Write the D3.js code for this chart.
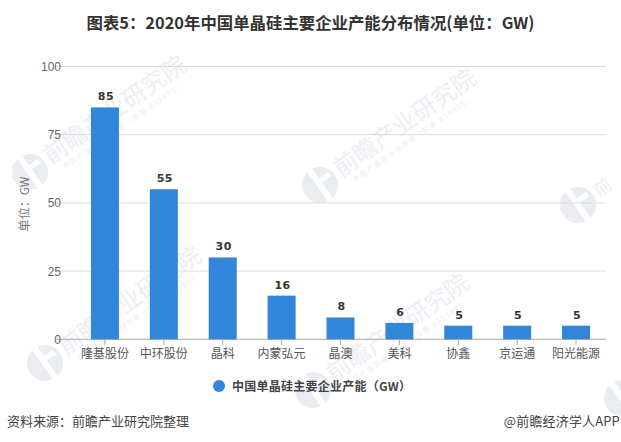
<!DOCTYPE html>
<html><head><meta charset="utf-8">
<script src="https://cdnjs.cloudflare.com/ajax/libs/d3/7.8.5/d3.min.js"></script>
<style>html,body{margin:0;background:#fff}svg{display:block}text{font-family:"Noto Sans CJK SC","Liberation Sans",sans-serif}</style>
</head><body><svg id="c" width="621" height="442"></svg>
<script>
const categories=["隆基股份","中环股份","晶科","内蒙弘元","晶澳","美科","协鑫","京运通","阳光能源"];
const values=[85,55,30,16,8,6,5,5,5];
const yTicks=[0,25,50,75,100];
const titleText="图表5：2020年中国单晶硅主要企业产能分布情况(单位：GW)";
const seriesName="中国单晶硅主要企业产能（GW）";
const yLabel="单位：GW";
const sourceText="资料来源：前瞻产业研究院整理";
const creditText="@前瞻经济学人APP";
const wmPositions=[[30,172],[320,185],[45,363],[313,390],[578,205],[622,398]];
const wmLabels=["前瞻产业研究院","前瞻产业研究院","前瞻产业研究院","前瞻产业研究院","前",""];
const wmSizes=[24,24,24,24,18,0];
const wmSubs=["中国产业咨询领导者（股票 839599）","中国产业咨询领导者（股票 839599）","中国产业咨询领导者（股票 839599）","中国产业咨询领导者（股票 839599）","",""];

const svg=d3.select("#c");
const x=d3.scaleBand().domain(categories).range([75.5,605.5]);
const y=d3.scaleLinear().domain([0,100]).range([339.3,66.5]);
const blue="#3186d9";
const cx=d=>x(d)+x.bandwidth()/2;

const wm=svg.append("g");
wmPositions.forEach((p,i)=>{
  const g=wm.append("g").attr("transform",`translate(${p[0]},${p[1]}) rotate(-35)`);
  g.append("circle").attr("r",18).attr("fill","#e9ecf1");
  g.append("path").attr("d","M-3,-19 L3,-19 L3,-6 L14,-6 L14,-1 L3,-1 L3,19 L-3,19 Z").attr("fill","#fff");
  if(wmLabels[i]) g.append("text").attr("x",21).attr("y",6).attr("font-size",wmSizes[i]).attr("fill","#eceef3").text(wmLabels[i]);
  if(wmSubs[i]) g.append("text").attr("x",30).attr("y",18).attr("font-size",7).attr("letter-spacing",1.5).attr("fill","#eceef3").text(wmSubs[i]);
});

svg.append("g").selectAll("line").data(yTicks).join("line")
  .attr("x1",56).attr("x2",606).attr("y1",d=>y(d)).attr("y2",d=>y(d))
  .attr("stroke",d=>d===0?"#a8a8a8":"#dcdcdc").attr("stroke-width",1);
svg.append("g").selectAll("text").data(yTicks).join("text")
  .attr("x",61).attr("y",d=>y(d)+4.5).attr("text-anchor","end").attr("font-size",12).attr("fill","#666")
  .attr("style",'font-family:"Liberation Sans"').text(d=>d);

svg.append("g").selectAll("rect").data(categories).join("rect")
  .attr("x",d=>cx(d)-14).attr("width",28)
  .attr("y",(d,i)=>y(values[i])).attr("height",(d,i)=>y(0)-y(values[i])).attr("fill",blue);

svg.append("g").selectAll("line").data(categories).join("line")
  .attr("x1",cx).attr("x2",cx).attr("y1",339.3).attr("y2",345).attr("stroke","#a8a8a8");
svg.append("g").selectAll("text").data(categories).join("text")
  .attr("x",cx).attr("y",358).attr("text-anchor","middle")
  .attr("font-size",12).attr("fill","#555").text(d=>d);

svg.append("g").selectAll("text").data(values).join("text")
  .attr("x",(d,i)=>cx(categories[i])+1).attr("y",d=>y(d)-7)
  .attr("text-anchor","middle").attr("font-size",11).attr("font-weight",700).attr("fill","#333")
  .attr("letter-spacing",0.5).attr("style",'font-family:"DejaVu Sans"').text(d=>d);

svg.append("text").attr("transform","translate(29,204) rotate(-90)").attr("text-anchor","middle")
  .attr("font-size",12).attr("fill","#777").text(yLabel);

svg.append("text").attr("x",310.5).attr("y",29).attr("text-anchor","middle")
  .attr("font-size",16.4).attr("font-weight",700).attr("fill","#333").text(titleText);

svg.append("circle").attr("cx",219).attr("cy",386).attr("r",6).attr("fill",blue);
svg.append("text").attr("x",232).attr("y",391).attr("font-size",12).attr("font-weight",700)
  .attr("letter-spacing",0.25).attr("fill","#444").text(seriesName);

svg.append("text").attr("x",7).attr("y",426).attr("font-size",13).attr("fill","#444").text(sourceText);
svg.append("text").attr("x",620).attr("y",426).attr("text-anchor","end").attr("font-size",13).attr("letter-spacing",0.15).attr("fill","#444").text(creditText);
</script></body></html>
